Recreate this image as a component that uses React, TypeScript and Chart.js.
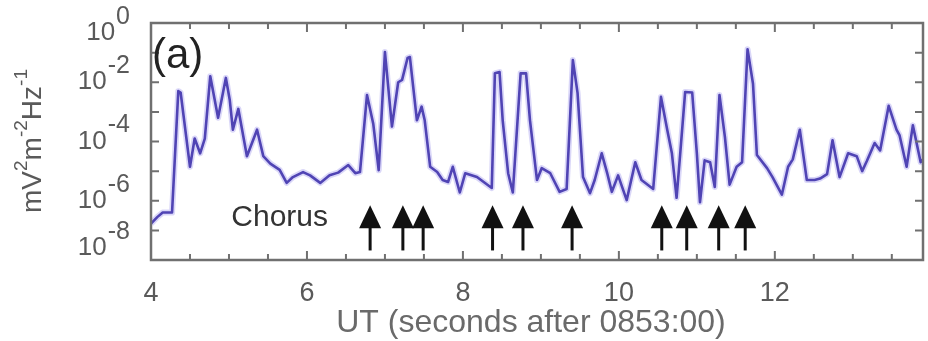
import React, { useEffect, useRef } from "react";
import { Chart, registerables } from "chart.js";

Chart.register(...registerables);

// ---- data ----
const timeSeconds: number[] = [
  4.0, 4.08, 4.15, 4.27, 4.35, 4.38, 4.5, 4.56, 4.63, 4.69, 4.76, 4.86, 4.96, 5.01, 5.05, 5.12,
  5.23, 5.36, 5.44, 5.53, 5.65, 5.74, 5.82, 5.95, 6.04, 6.17, 6.29, 6.4, 6.53, 6.62, 6.68, 6.77,
  6.85, 6.92, 7.0, 7.09, 7.17, 7.22, 7.29, 7.32, 7.41, 7.47, 7.51, 7.58, 7.67, 7.74, 7.81, 7.87,
  7.96, 8.03, 8.18, 8.37, 8.41, 8.47, 8.51, 8.58, 8.64, 8.74, 8.81, 8.86, 8.95, 9.01, 9.12, 9.24,
  9.33, 9.41, 9.47, 9.54, 9.63, 9.69, 9.78, 9.85, 9.91, 9.99, 10.1, 10.21, 10.29, 10.44, 10.54,
  10.62, 10.68, 10.74, 10.79, 10.85, 10.94, 11.0, 11.04, 11.1, 11.17, 11.23, 11.29, 11.36, 11.42,
  11.51, 11.58, 11.65, 11.72, 11.77, 11.9, 11.97, 12.09, 12.17, 12.23, 12.32, 12.41, 12.51, 12.58,
  12.67, 12.74, 12.83, 12.94, 13.05, 13.12, 13.18, 13.28, 13.35, 13.46, 13.56, 13.6, 13.69, 13.77,
  13.87, 13.9,
];

const spectralDensity: number[] = [
  1.7e-7, 2.8e-7, 4.0e-7, 4.0e-7, 5.0e-3, 4.5e-3, 1.4e-5, 1.26e-4, 4.0e-5, 1.26e-4, 1.6e-2, 6.3e-4,
  1.4e-2, 2.5e-3, 2.5e-4, 1.26e-3, 3.2e-5, 2.5e-4, 3.2e-5, 1.8e-5, 1.1e-5, 4.0e-6, 6.3e-6, 9.3e-6,
  7.2e-6, 4.0e-6, 7.2e-6, 8.9e-6, 1.6e-5, 8.5e-6, 9.3e-6, 3.7e-3, 4.0e-4, 1.07e-5, 1.05e-1, 3.2e-4,
  1.0e-2, 1.2e-2, 6.6e-2, 7.1e-2, 5.2e-4, 1.5e-3, 5.2e-4, 1.4e-5, 9.3e-6, 5.0e-6, 4.3e-6, 1.4e-5,
  1.9e-6, 8.5e-6, 6.3e-6, 2.7e-6, 2.0e-2, 2.2e-2, 5.2e-4, 8.5e-6, 1.9e-6, 2.0e-2, 2.0e-2, 5.2e-4,
  5.0e-6, 1.26e-5, 8.5e-6, 2.0e-6, 2.5e-6, 5.6e-2, 4.4e-3, 6.3e-6, 1.8e-6, 5.0e-6, 4.0e-5, 8.5e-6,
  2.0e-6, 7.2e-6, 1.05e-6, 2.0e-5, 5.0e-6, 2.5e-6, 3.2e-3, 2.5e-4, 4.0e-5, 1.26e-6, 5.0e-5, 4.7e-3,
  4.5e-3, 4.0e-5, 8.9e-7, 2.3e-5, 2.0e-5, 2.9e-6, 3.7e-3, 1.4e-4, 3.5e-6, 1.4e-5, 2.0e-5, 1.3e-1,
  8.9e-3, 3.5e-5, 1.26e-5, 6.3e-6, 1.6e-6, 1.4e-5, 2.5e-5, 2.5e-4, 5.0e-6, 5.0e-6, 5.6e-6, 7.9e-6,
  1.1e-4, 6.3e-6, 4.0e-5, 3.2e-5, 1.0e-5, 2.2e-5, 8.9e-5, 5.0e-5, 1.6e-3, 2.5e-4, 1.6e-4, 1.4e-5,
  3.5e-4, 2.0e-5, 2.5e-5,
];

// chorus arrows (times, s after 0853:00)
const chorusTimes: number[] = [6.81, 7.23, 7.49, 8.38, 8.77, 9.4, 10.55, 10.87, 11.28, 11.62];
const arrowTipValue = 7.0e-7;
const arrowHeadBaseValue = 1.17e-7;
const arrowTailValue = 2.1e-8;
const chorusLabel = "Chorus";
const chorusLabelTime = 5.03;
const chorusLabelValue = 2.6e-7;

// axes
const xMin = 4;
const xMax = 13.9;
const xTickLabels: number[] = [4, 6, 8, 10, 12];
const xMinorStep = 0.5;
const yMin = 1e-8;
const yMax = 1;
const yTickExponents: number[] = [0, -1, -2, -3, -4, -5, -6, -7, -8];
const yLabelExponents: number[] = [0, -2, -4, -6, -8];
const xTitle = "UT (seconds after 0853:00)";
const yTitleParts: [string, boolean][] = [
  ["mV", false],
  ["2", true],
  ["m", false],
  ["-2", true],
  ["Hz", false],
  ["-1", true],
];
const panelLabel = "(a)";

const FONT = '"Liberation Sans", Arial, sans-serif';
const AXIS_COLOR = "#707070";
const TEXT_GRAY = "#5a5a5a";
const LINE_COLOR = "#5044b4";
const LINE_HALO = "rgba(150, 140, 235, 0.35)";

const decorPlugin = {
  id: "decor",
  afterDatasetsDraw(chart: any) {
    const { ctx, chartArea: a, scales } = chart;
    const x = scales.x;
    const y = scales.y;
    ctx.save();

    // frame
    ctx.strokeStyle = AXIS_COLOR;
    ctx.lineWidth = 2.5;
    ctx.strokeRect(a.left, a.top, a.right - a.left, a.bottom - a.top);

    // x ticks (inward, top and bottom)
    ctx.lineWidth = 2;
    for (let v = xMin; v <= xMax + 1e-9; v += xMinorStep) {
      const px = x.getPixelForValue(v);
      const major = xTickLabels.includes(v);
      const len = major ? 9 : 6;
      ctx.beginPath();
      ctx.moveTo(px, a.bottom);
      ctx.lineTo(px, a.bottom - len);
      ctx.moveTo(px, a.top);
      ctx.lineTo(px, a.top + len);
      ctx.stroke();
    }
    // y ticks (inward, left and right)
    for (const e of yTickExponents) {
      const py = y.getPixelForValue(Math.pow(10, e));
      ctx.beginPath();
      ctx.moveTo(a.left, py);
      ctx.lineTo(a.left + 8, py);
      ctx.moveTo(a.right, py);
      ctx.lineTo(a.right - 8, py);
      ctx.stroke();
    }

    // x tick labels
    ctx.fillStyle = TEXT_GRAY;
    ctx.font = `27px ${FONT}`;
    ctx.textAlign = "center";
    ctx.textBaseline = "middle";
    for (const v of xTickLabels) {
      ctx.fillText(String(v), x.getPixelForValue(v), a.bottom + 34);
    }

    // x title
    ctx.font = `32px ${FONT}`;
    ctx.fillStyle = "#6a6a6a";
    ctx.fillText(xTitle, (a.left + a.right) / 2 - 6, a.bottom + 63);

    // y tick labels 10^e
    ctx.fillStyle = TEXT_GRAY;
    ctx.textAlign = "left";
    for (const e of yLabelExponents) {
      let py = y.getPixelForValue(Math.pow(10, e));
      py = Math.min(Math.max(py, a.top + 10), a.bottom - 12);
      const sup = String(e);
      ctx.font = `25px ${FONT}`;
      const supW = ctx.measureText(sup).width;
      ctx.font = `26px ${FONT}`;
      const baseW = ctx.measureText("10").width;
      const right = a.left - 21;
      const x0 = right - supW - baseW - 1;
      ctx.fillText("10", x0, py);
      ctx.font = `25px ${FONT}`;
      ctx.fillText(sup, x0 + baseW + 1, py - 16);
    }

    // y title (rotated, with superscripts)
    ctx.save();
    ctx.translate(33, 141);
    ctx.rotate(-Math.PI / 2);
    const baseFont = `28px ${FONT}`;
    const supFont = `19px ${FONT}`;
    let total = 0;
    for (const [t, s] of yTitleParts) {
      ctx.font = s ? supFont : baseFont;
      total += ctx.measureText(t).width;
    }
    let cx = -total / 2;
    ctx.fillStyle = TEXT_GRAY;
    ctx.textAlign = "left";
    for (const [t, s] of yTitleParts) {
      ctx.font = s ? supFont : baseFont;
      ctx.fillText(t, cx, s ? -11 : 0);
      cx += ctx.measureText(t).width;
    }
    ctx.restore();

    // panel label
    ctx.fillStyle = "#222";
    ctx.font = `42px ${FONT}`;
    ctx.textAlign = "left";
    ctx.fillText(panelLabel, a.left + 1, a.top + 33);

    // Chorus label
    ctx.fillStyle = "#333";
    ctx.font = `30px ${FONT}`;
    ctx.fillText(chorusLabel, x.getPixelForValue(chorusLabelTime), y.getPixelForValue(chorusLabelValue));

    // arrows
    ctx.fillStyle = "#111";
    ctx.strokeStyle = "#111";
    ctx.lineWidth = 3;
    for (const t of chorusTimes) {
      const px = x.getPixelForValue(t);
      const tip = y.getPixelForValue(arrowTipValue);
      const hb = y.getPixelForValue(arrowHeadBaseValue);
      const tail = y.getPixelForValue(arrowTailValue);
      ctx.beginPath();
      ctx.moveTo(px, tail);
      ctx.lineTo(px, hb - 1);
      ctx.stroke();
      ctx.beginPath();
      ctx.moveTo(px - 11, hb);
      ctx.lineTo(px + 11, hb);
      ctx.lineTo(px, tip);
      ctx.closePath();
      ctx.fill();
    }

    ctx.restore();
  },
};

export default function App() {
  const canvasRef = useRef<HTMLCanvasElement | null>(null);

  useEffect(() => {
    if (!canvasRef.current) return;
    const points = timeSeconds.map((t, i) => ({ x: t, y: spectralDensity[i] }));
    const chart = new Chart(canvasRef.current, {
      type: "line",
      data: {
        datasets: [
          {
            data: points,
            borderColor: LINE_COLOR,
            borderWidth: 2.6,
            borderJoinStyle: "round",
            pointRadius: 0,
            tension: 0,
            fill: false,
            order: 0,
          },
          {
            data: points,
            borderColor: LINE_HALO,
            borderWidth: 6,
            borderJoinStyle: "round",
            pointRadius: 0,
            tension: 0,
            fill: false,
            order: 1,
          },
        ],
      },
      options: {
        animation: false,
        responsive: false,
        devicePixelRatio: 1,
        layout: { padding: { top: 23, right: 5, left: 0, bottom: 0 } },
        plugins: { legend: { display: false }, tooltip: { enabled: false }, title: { display: false } },
        scales: {
          x: {
            type: "linear",
            min: xMin,
            max: xMax,
            ticks: { display: false },
            grid: { display: false },
            border: { display: false },
            afterFit: (s: any) => {
              s.height = 81;
            },
          },
          y: {
            type: "logarithmic",
            min: yMin,
            max: yMax,
            ticks: { display: false },
            grid: { display: false },
            border: { display: false },
            afterFit: (s: any) => {
              s.width = 151;
            },
          },
        },
      },
      plugins: [decorPlugin],
    });
    return () => chart.destroy();
  }, []);

  return (
    <div style={{ position: "fixed", left: 0, top: 0, width: 928, height: 341, background: "#fff" }}>
      <canvas ref={canvasRef} width={928} height={341} />
    </div>
  );
}
